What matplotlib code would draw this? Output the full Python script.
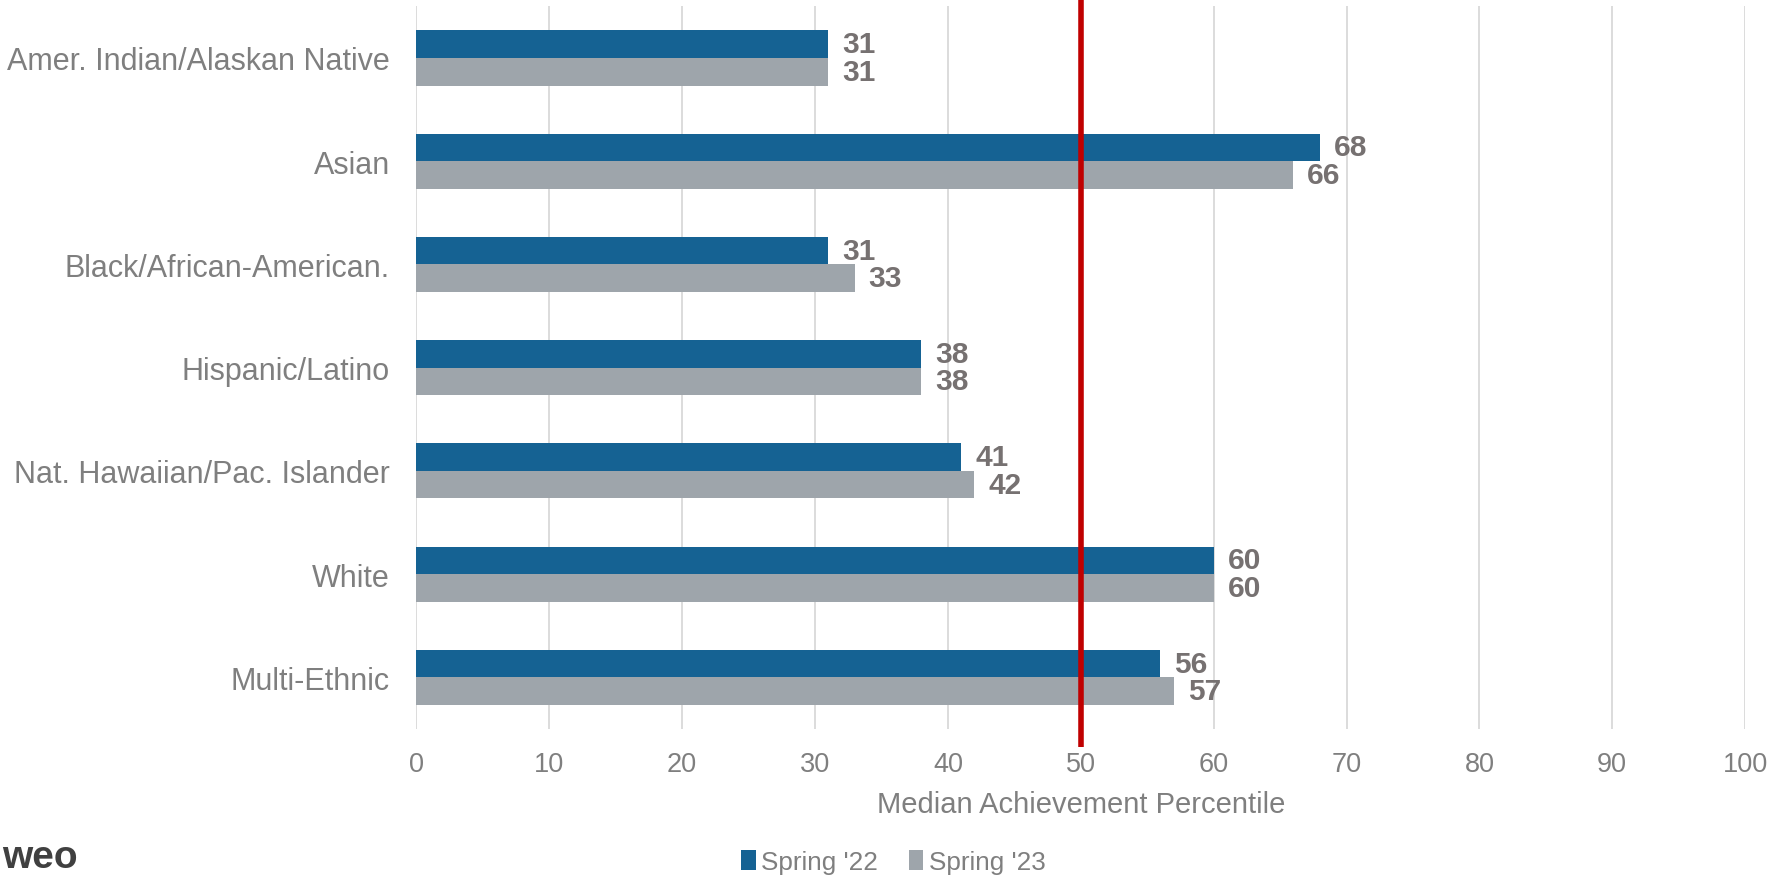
import matplotlib
matplotlib.use("Agg")
import matplotlib.pyplot as plt
import matplotlib.transforms as mtransforms
from matplotlib.patches import Patch
import numpy as np

plt.rcParams['font.family'] = ['Liberation Sans', 'DejaVu Sans']

categories = [
    "Amer. Indian/Alaskan Native",
    "Asian",
    "Black/African-American.",
    "Hispanic/Latino",
    "Nat. Hawaiian/Pac. Islander",
    "White",
    "Multi-Ethnic",
]
spring22 = [31, 68, 31, 38, 41, 60, 56]
spring23 = [31, 66, 33, 38, 42, 60, 57]
series_names = ["Spring '22", "Spring '23"]
x_ticks = [0, 10, 20, 30, 40, 50, 60, 70, 80, 90, 100]
reference_line = 50

blue = "#156293"
grey = "#9EA5AB"
red = "#C00000"
text_grey = "#767171"
label_grey = "#7F7F7F"

fig = plt.figure(figsize=(17.69, 8.78), dpi=100)
ax = fig.add_axes([0.2354, 0.1686, 0.7511, 0.8230])

y = np.arange(len(categories))
h = 0.267
ax.barh(y - h / 2, spring22, height=h, color=blue, zorder=2)
ax.barh(y + h / 2, spring23, height=h, color=grey, zorder=2)

ax.set_ylim(len(categories) - 0.5, -0.5)
ax.set_xlim(0, 100)
ax.set_xticks(x_ticks)
ax.set_xticklabels([str(t) for t in x_ticks])
ax.set_yticks(y)
ax.set_yticklabels(categories)
ax.tick_params(axis='x', length=0, pad=16, labelsize=19.5, labelcolor=label_grey)
ax.tick_params(axis='y', length=0, pad=19, labelsize=22, labelcolor=label_grey)
ax.grid(axis='x', color='#D9D9D9', linewidth=1.3, zorder=0)
for s in ax.spines.values():
    s.set_visible(False)

ax.set_xlabel("Median Achievement Percentile", fontsize=21, color=label_grey, labelpad=9)

for yi, v in zip(y, spring22):
    ax.annotate(str(v), (v, yi - h / 2), xytext=(10, 0), textcoords='offset points',
                va='center', ha='left', fontsize=21.5, fontweight='bold', color=text_grey)
for yi, v in zip(y, spring23):
    ax.annotate(str(v), (v, yi + h / 2), xytext=(10, 0), textcoords='offset points',
                va='center', ha='left', fontsize=21.5, fontweight='bold', color=text_grey)

# reference line at the 50th percentile, running past the plot area
trans = mtransforms.blended_transform_factory(ax.transData, ax.transAxes)
ax.plot([reference_line, reference_line], [-0.025, 1.02], transform=trans,
        color=red, linewidth=4, clip_on=False, zorder=5, solid_capstyle='butt')

handles = [Patch(facecolor=blue, label=series_names[0]),
           Patch(facecolor=grey, label=series_names[1])]
fig.legend(handles=handles, loc='center', bbox_to_anchor=(0.505, 0.017),
           ncol=2, frameon=False, fontsize=18.8, labelcolor=label_grey,
           handlelength=0.55, handleheight=0.8, handletextpad=0.2,
           columnspacing=1.2)

fig.text(0.001, 0.002, "weo", fontsize=28, fontweight='bold', color='#404040',
         ha='left', va='bottom')

fig.savefig("out.png", dpi=100)
